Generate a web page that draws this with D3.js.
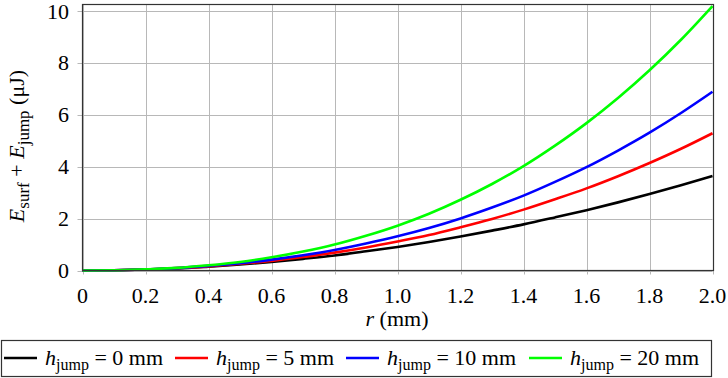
<!DOCTYPE html>
<html>
<head>
<meta charset="utf-8">
<script src="https://cdn.jsdelivr.net/npm/d3@7"></script>
</head>
<body style="margin:0">
<div id="plot-energy"></div>
<script>
// Surface + jump energy vs radius, one curve per jump height

// Data
const radius = [0, 0.1, 0.2, 0.3, 0.4, 0.5, 0.6, 0.7, 0.8, 0.9, 1.0,
                1.1, 1.2, 1.3, 1.4, 1.5, 1.6, 1.7, 1.8, 1.9, 2.0];
const energyH0 = [0, 0.01, 0.04, 0.08, 0.15, 0.23, 0.33, 0.45, 0.58, 0.74, 0.91,
                  1.10, 1.31, 1.54, 1.78, 2.05, 2.33, 2.63, 2.95, 3.29, 3.65];
const energyH5 = [0, 0.01, 0.04, 0.09, 0.16, 0.26, 0.37, 0.52, 0.69, 0.89, 1.12,
                  1.37, 1.67, 1.99, 2.35, 2.75, 3.17, 3.64, 4.15, 4.70, 5.30];
const energyH10 = [0, 0.01, 0.04, 0.09, 0.18, 0.28, 0.42, 0.59, 0.79, 1.04, 1.32,
                   1.64, 2.01, 2.43, 2.89, 3.42, 3.99, 4.63, 5.32, 6.08, 6.90];
const energyH20 = [0, 0.01, 0.05, 0.10, 0.20, 0.33, 0.51, 0.73, 1.00, 1.34, 1.73,
                   2.19, 2.73, 3.34, 4.03, 4.82, 5.69, 6.66, 7.73, 8.91, 10.21];
const seriesLabels = ["0 mm", "5 mm", "10 mm", "20 mm"];
const seriesColors = ["#000000", "#ff0000", "#0000ff", "#00ff00"];
const xTicks = [0, 0.2, 0.4, 0.6, 0.8, 1.0, 1.2, 1.4, 1.6, 1.8, 2.0];
const yTicks = [0, 2, 4, 6, 8, 10];

const series = [energyH0, energyH5, energyH10, energyH20];

// Size of the page and the plot box
const width = 728, height = 378;
const plot = { left: 82.5, right: 712.5, top: 4.5, bottom: 270.5 };
const yMax = 10.27;
const fontName = "Liberation Serif";

const svg = d3.select("#plot-energy")
    .append("svg")
    .attr("width", width)
    .attr("height", height)
    .attr("font-family", fontName)
    .style("vertical-align", "top");

const xScale = d3.scaleLinear().domain([0, 2]).range([plot.left, plot.right]);
const yScale = d3.scaleLinear().domain([0, yMax]).range([plot.bottom, plot.top]);

// Small helper so every text gets the same serif font
function addText(parent, size) {
    return parent.append("text")
        .attr("font-family", fontName)
        .style("font-family", fontName)
        .style("font-size", size + "px");
}

// Grid lines (they stick out a bit past the frame like ticks)
const grid = svg.append("g")
    .attr("stroke", "#b8b8b8")
    .attr("stroke-width", 1);

grid.selectAll(".vgrid")
    .data(xTicks)
    .join("line")
    .attr("x1", d => Math.round(xScale(d)) + 0.5)
    .attr("x2", d => Math.round(xScale(d)) + 0.5)
    .attr("y1", plot.top)
    .attr("y2", plot.bottom + 4);

grid.selectAll(".hgrid")
    .data(yTicks)
    .join("line")
    .attr("y1", d => Math.round(yScale(d)) + 0.5)
    .attr("y2", d => Math.round(yScale(d)) + 0.5)
    .attr("x1", plot.left - 5)
    .attr("x2", plot.right);

// Tick labels
xTicks.forEach(t => {
    addText(svg, 22)
        .attr("x", xScale(t))
        .attr("y", 303)
        .attr("text-anchor", "middle")
        .text(t === 0 ? "0" : t.toFixed(1));
});

yTicks.forEach(t => {
    addText(svg, 22)
        .attr("x", 69)
        .attr("y", yScale(t) + 7)
        .attr("text-anchor", "end")
        .text(t);
});

// Curves
const line = d3.line()
    .x((d, i) => xScale(radius[i]))
    .y(d => yScale(d))
    .curve(d3.curveMonotoneX);

svg.append("g")
    .selectAll("path")
    .data(series)
    .join("path")
    .attr("d", d => line(d))
    .attr("fill", "none")
    .attr("stroke", (d, i) => seriesColors[i])
    .attr("stroke-width", 2.6);

// Frame
svg.append("rect")
    .attr("x", plot.left)
    .attr("y", plot.top)
    .attr("width", plot.right - plot.left + 1)
    .attr("height", plot.bottom - plot.top)
    .attr("fill", "none")
    .attr("stroke", "#333")
    .attr("stroke-width", 1.2);

// Axis titles
const xTitle = addText(svg, 22)
    .attr("x", 397)
    .attr("y", 326)
    .attr("text-anchor", "middle");
xTitle.append("tspan").style("font-style", "italic").text("r");
xTitle.append("tspan").text(" (mm)");

const yTitle = addText(svg, 22)
    .attr("transform", "translate(24,146) rotate(-90)")
    .attr("text-anchor", "middle");
yTitle.append("tspan").style("font-style", "italic").text("E");
yTitle.append("tspan").attr("dy", 5).style("font-size", "17px").text("surf");
yTitle.append("tspan").attr("dy", -5).text(" + ");
yTitle.append("tspan").style("font-style", "italic").text("E");
yTitle.append("tspan").attr("dy", 5).style("font-size", "17px").text("jump");
yTitle.append("tspan").attr("dy", -5).text(" (\u03bcJ)");

// Legend
const legendX = [4, 175, 346, 529];

svg.append("rect")
    .attr("x", 1.5)
    .attr("y", 340.5)
    .attr("width", 710)
    .attr("height", 36)
    .attr("fill", "#fff")
    .attr("stroke", "#333")
    .attr("stroke-width", 1.2);

seriesLabels.forEach((label, i) => {
    svg.append("line")
        .attr("x1", legendX[i])
        .attr("x2", legendX[i] + 33)
        .attr("y1", 358)
        .attr("y2", 358)
        .attr("stroke", seriesColors[i])
        .attr("stroke-width", 2.6);

    const t = addText(svg, 22)
        .attr("x", legendX[i] + 41)
        .attr("y", 365);
    t.append("tspan").style("font-style", "italic").text("h");
    t.append("tspan").attr("dy", 5).style("font-size", "16px").text("jump");
    t.append("tspan").attr("dy", -5).text(" = " + label);
});
</script>
</body>
</html>
